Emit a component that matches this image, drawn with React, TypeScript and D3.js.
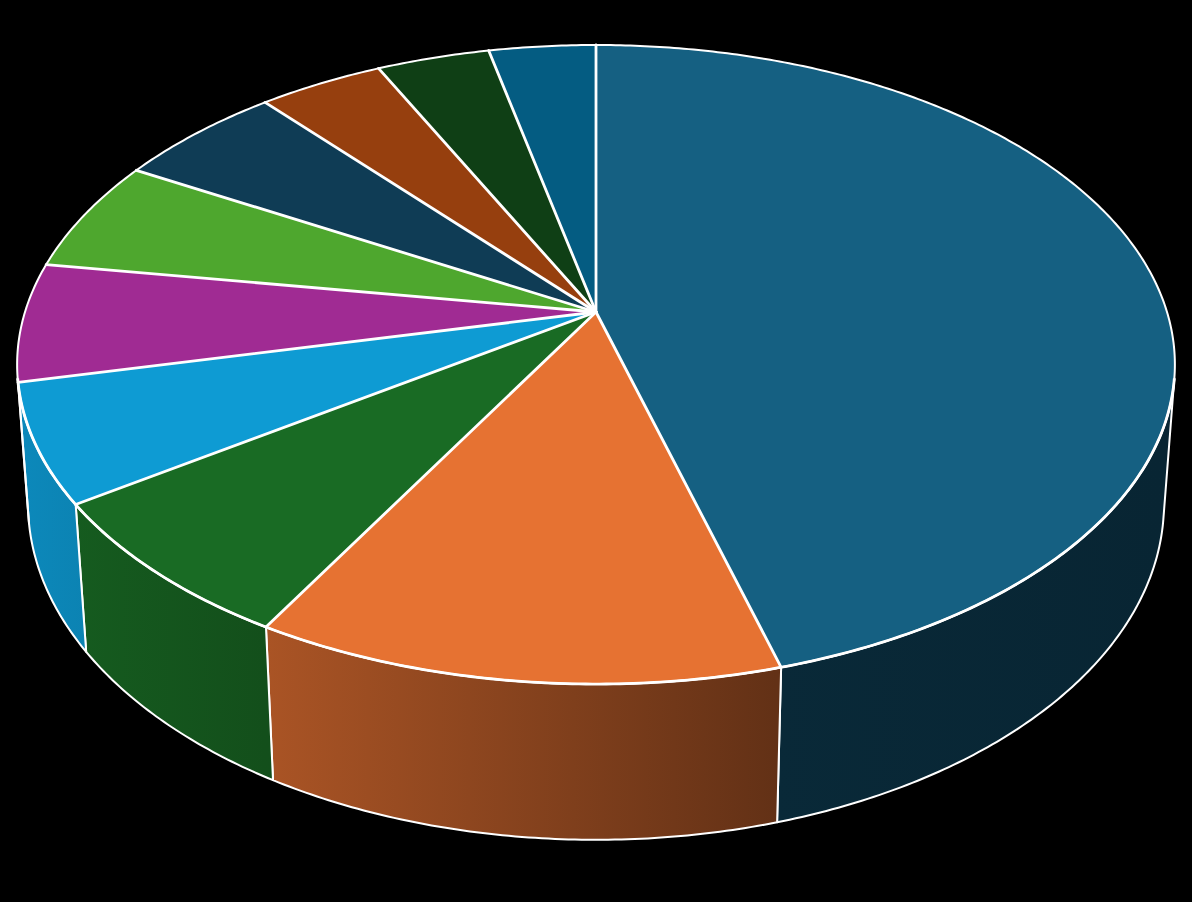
import React from 'react'
import * as d3 from 'd3'

const width = 1192
const height = 902

// slice shares in percent, clockwise from 12 o'clock
const sliceValues = [45.6, 12.65, 7.25, 6.0, 6.0, 5.7, 5.5, 4.1, 3.7, 3.5]
const sliceColors = ['#156082', '#E67232', '#196B24', '#0E9BD3', '#A02B93', '#4EA72E', '#0F3C55', '#963F0E', '#0F3F15', '#045C82']

// wall shading, as a function of the horizontal position
const shadeX = [27, 266, 776, 1163]
const shadeK = [0.88, 0.74, 0.43, 0.39]

// camera: the disc centre lands on (cx, cy), k and m are the perspective terms
const cx = 596
const cy = 312
const scaleU = 571
const scaleV = 310.9
const depth = 140
const k = 0.1644
const m = 0.0187

const project = (a: number, z: number): [number, number] => {
  const u = Math.sin(a)
  const v = Math.cos(a)
  const w = 1 + k * v + m * z
  return [cx + scaleU * u / w, cy + (-scaleV * v + depth * z) / w]
}

// angles where the side of the cylinder turns away from the viewer
const eyeV = -(depth / scaleV) / ((k * depth) / scaleV + m)
const silhouette = Math.acos(1 / eyeV)
const wallFrom = silhouette
const wallTo = 2 * Math.PI - silhouette

const arcAngles = (a0: number, a1: number) => {
  const n = Math.max(2, Math.ceil((a1 - a0) / 0.01))
  return d3.range(n + 1).map((i) => a0 + (a1 - a0) * i / n)
}

const line = d3.line()

const slices = d3.pie<number>().sort(null)(sliceValues)

const shade = d3.scaleLinear().domain(shadeX).range(shadeK).clamp(true)

const darken = (color: string, f: number) => {
  const c = d3.rgb(color)
  return d3.rgb(c.r * f, c.g * f, c.b * f).formatHex()
}

export default function App () {
  const walls = slices
    .map((s, i) => ({ i, a0: Math.max(s.startAngle, wallFrom), a1: Math.min(s.endAngle, wallTo) }))
    .filter((s) => s.a1 > s.a0)

  return (
    <svg
      width={width}
      height={height}
      viewBox={`0 0 ${width} ${height}`}
      style={{ position: 'absolute', left: 0, top: 0, background: '#000' }}
    >
      <defs>
        {sliceColors.map((color, i) => (
          <linearGradient key={i} id={`wall-${i}`} gradientUnits="userSpaceOnUse" x1={shadeX[0]} y1={0} x2={shadeX[3]} y2={0}>
            {shadeX.map((x) => (
              <stop
                key={x}
                offset={(x - shadeX[0]) / (shadeX[3] - shadeX[0])}
                stopColor={darken(color, shade(x))}
              />
            ))}
          </linearGradient>
        ))}
      </defs>

      {/* side walls, the top face covers whatever is behind it */}
      {walls.map(({ i, a0, a1 }) => {
        const angles = arcAngles(a0, a1)
        const pts = [
          ...angles.map((a) => project(a, 0)),
          ...angles.slice().reverse().map((a) => project(a, 1))
        ]
        return (
          <path
            key={i}
            d={line(pts) + 'Z'}
            fill={`url(#wall-${i})`}
            stroke="#fff"
            strokeWidth={2}
            strokeLinejoin="round"
          />
        )
      })}

      {/* top face */}
      {slices.map((s, i) => {
        const pts = arcAngles(s.startAngle, s.endAngle).map((a) => project(a, 0))
        return <path key={i} d={line([[cx, cy], ...pts]) + 'Z'} fill={sliceColors[i]} />
      })}

      {/* radial separators are a little heavier than the back of the rim */}
      {slices.map((s, i) => (
        <path
          key={i}
          d={line([[cx, cy], project(s.startAngle, 0)]) as string}
          fill="none"
          stroke="#fff"
          strokeWidth={2.8}
          strokeLinecap="round"
        />
      ))}
      <path d={line(arcAngles(0, 2 * Math.PI).map((a) => project(a, 0))) + 'Z'} fill="none" stroke="#fff" strokeWidth={2} />
      <path d={line(arcAngles(wallFrom, wallTo).map((a) => project(a, 0))) as string} fill="none" stroke="#fff" strokeWidth={2.8} />
    </svg>
  )
}
